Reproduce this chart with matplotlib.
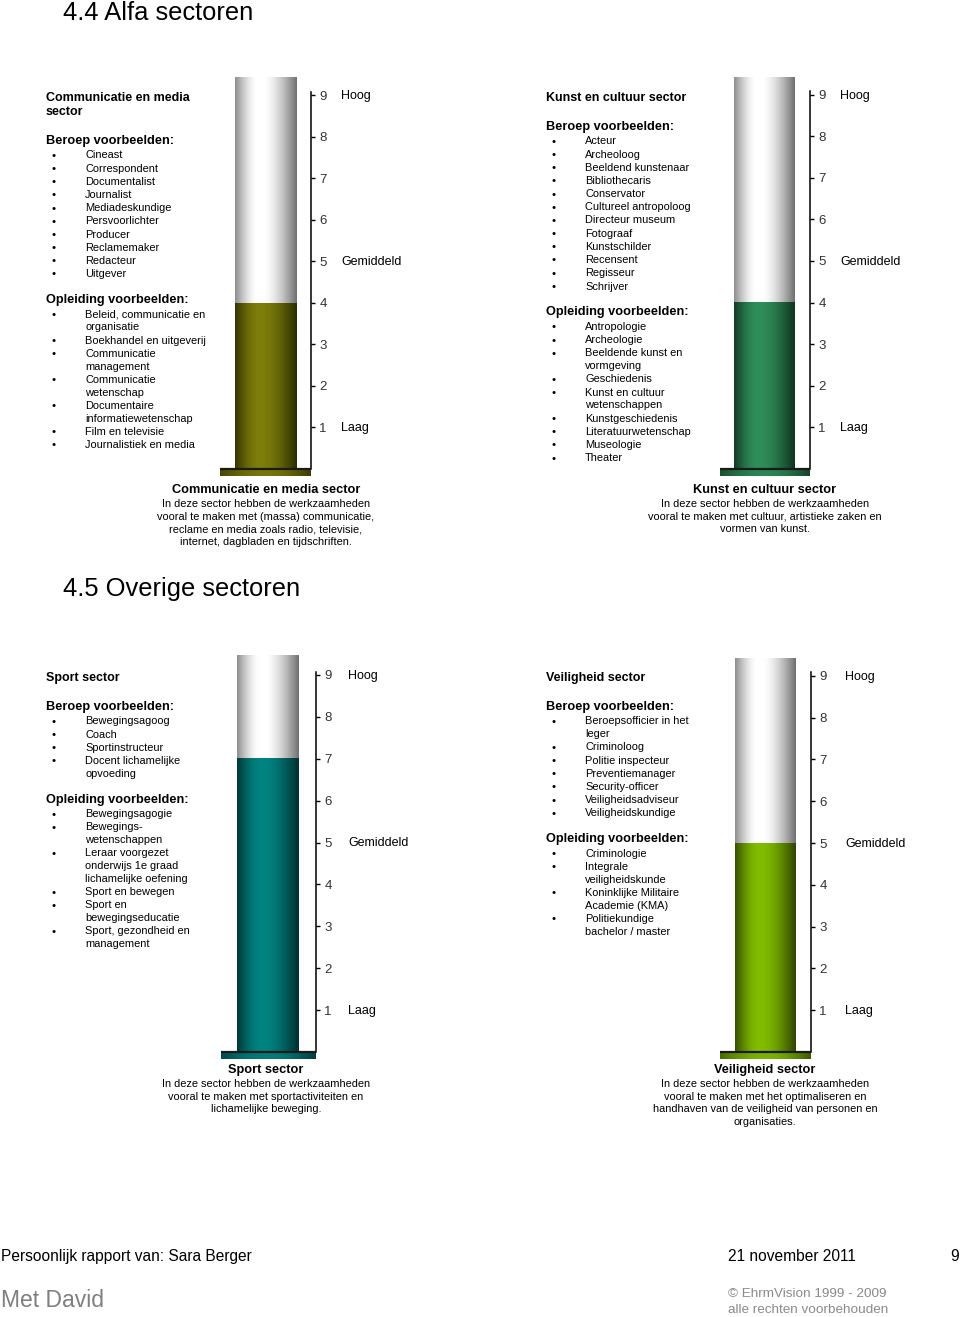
import numpy as np
import matplotlib
matplotlib.use('Agg')
import matplotlib.pyplot as plt
from matplotlib.transforms import offset_copy

plt.rcParams['font.family'] = ['Liberation Sans', 'DejaVu Sans']

W, H = 960, 1317

# ---------------- data ----------------
sectors = ['Communicatie en media sector', 'Kunst en cultuur sector',
           'Sport sector', 'Veiligheid sector']
titles = [['Communicatie en media', 'sector'], ['Kunst en cultuur sector'],
          ['Sport sector'], ['Veiligheid sector']]
scores = [4, 4, 7, 5]
fill_colors = [(118, 118, 10), (44, 134, 84), (0, 124, 122), (122, 178, 0)]

scale_ticks = [1, 2, 3, 4, 5, 6, 7, 8, 9]
level_names = ['Laag', 'Gemiddeld', 'Hoog']
level_values = [1, 5, 9]

beroep = [
    ['Cineast', 'Correspondent', 'Documentalist', 'Journalist', 'Mediadeskundige',
     'Persvoorlichter', 'Producer', 'Reclamemaker', 'Redacteur', 'Uitgever'],
    ['Acteur', 'Archeoloog', 'Beeldend kunstenaar', 'Bibliothecaris', 'Conservator',
     'Cultureel antropoloog', 'Directeur museum', 'Fotograaf', 'Kunstschilder',
     'Recensent', 'Regisseur', 'Schrijver'],
    ['Bewegingsagoog', 'Coach', 'Sportinstructeur', 'Docent lichamelijke\nopvoeding'],
    ['Beroepsofficier in het\nleger', 'Criminoloog', 'Politie inspecteur',
     'Preventiemanager', 'Security-officer', 'Veiligheidsadviseur',
     'Veiligheidskundige'],
]
opleiding = [
    ['Beleid, communicatie en\norganisatie', 'Boekhandel en uitgeverij',
     'Communicatie\nmanagement', 'Communicatie\nwetenschap',
     'Documentaire\ninformatiewetenschap', 'Film en televisie',
     'Journalistiek en media'],
    ['Antropologie', 'Archeologie', 'Beeldende kunst en\nvormgeving', 'Geschiedenis',
     'Kunst en cultuur\nwetenschappen', 'Kunstgeschiedenis',
     'Literatuurwetenschap', 'Museologie', 'Theater'],
    ['Bewegingsagogie', 'Bewegings-\nwetenschappen',
     'Leraar voorgezet\nonderwijs 1e graad\nlichamelijke oefening',
     'Sport en bewegen', 'Sport en\nbewegingseducatie',
     'Sport, gezondheid en\nmanagement'],
    ['Criminologie', 'Integrale\nveiligheidskunde',
     'Koninklijke Militaire\nAcademie (KMA)', 'Politiekundige\nbachelor / master'],
]
captions = [
    ['In deze sector hebben de werkzaamheden',
     'vooral te maken met (massa) communicatie,',
     'reclame en media zoals radio, televisie,',
     'internet, dagbladen en tijdschriften.'],
    ['In deze sector hebben de werkzaamheden',
     'vooral te maken met cultuur, artistieke zaken en',
     'vormen van kunst.'],
    ['In deze sector hebben de werkzaamheden',
     'vooral te maken met sportactiviteiten en',
     'lichamelijke beweging.'],
    ['In deze sector hebben de werkzaamheden',
     'vooral te maken met het optimaliseren en',
     'handhaven van de veiligheid van personen en',
     'organisaties.'],
]

# ---------------- layout (pixels) ----------------
text_x = [46, 546, 46, 546]
text_top = [96, 96, 676, 676]
base_x0 = [220, 720, 221, 720]
tube_x = [(235, 296), (734, 795), (237, 299), (735, 796)]
axis_x = [311, 810, 316, 811]
zero_y = [469, 469, 1052, 1052]
unit_px = [41.5, 41.6, 41.9, 41.8]
tube_top = [77, 77, 655, 658]
level_x = [341, 840, 348, 845]
cap_x = [266, 765, 266, 765]
cap_y = [488, 488, 1068, 1068]
DY = 1.8  # va='center' sits a little high compared with the original


def fx(x):
    return x / W


def fy(y):
    return 1 - (y + DY) / H


def shade(rgb, n=80, lo=0.45, hi=1.06, ro=0.38, peak=0.4):
    t = np.linspace(0, 1, n)
    f = np.where(t < peak,
                 lo + (hi - lo) * np.sin(np.pi / 2 * t / peak),
                 ro + (hi - ro) * np.cos(np.pi / 2 * (t - peak) / (1 - peak)))
    c = np.clip(np.outer(f, np.array(rgb) / 255.0), 0, 1)
    return c[np.newaxis, :, :]


fig = plt.figure(figsize=(W / 100, H / 100), dpi=100)
fig.patch.set_facecolor('white')

# headings
fig.text(fx(63), 1 - 20 / H, '4.4 Alfa sectoren', fontsize=18.4, va='baseline')
fig.text(fx(63), 1 - 596 / H, '4.5 Overige sectoren', fontsize=18.4, va='baseline')

LS = 13.2
for i in range(4):
    x0 = text_x[i]
    y = text_top[i]
    for k, line in enumerate(titles[i]):
        fig.text(fx(x0), fy(y), line, fontsize=9, fontweight='bold', va='center')
        if k < len(titles[i]) - 1:
            y += 14
    for head, items in (('Beroep voorbeelden:', beroep[i]),
                        ('Opleiding voorbeelden:', opleiding[i])):
        y += 29 if head.startswith('Beroep') else 26
        fig.text(fx(x0), fy(y), head, fontsize=9.2, fontweight='bold', va='center')
        y += 14.5 - LS
        for item in items:
            y += LS
            fig.text(fx(x0 + 8), fy(y + 0.4), '\u2022', fontsize=8.2, va='center',
                     ha='center')
            for j, line in enumerate(item.split('\n')):
                if j > 0:
                    y += LS - 0.4
                fig.text(fx(x0 + 39), fy(y), line, fontsize=7.9, va='center')

    # caption under gauge
    cy = cap_y[i]
    fig.text(fx(cap_x[i]), fy(cy), sectors[i], fontsize=9.2, fontweight='bold',
             ha='center', va='center')
    cy += 14
    for line in captions[i]:
        fig.text(fx(cap_x[i]), fy(cy), line, fontsize=7.9, ha='center', va='center')
        cy += 12.7

    # gauge
    L, R = base_x0[i], axis_x[i]
    T, B = tube_top[i], zero_y[i] + 7
    u = unit_px[i]
    ax = fig.add_axes([L / W, 1 - B / H, (R - L) / W, (B - T) / H])
    ylo, yhi = -(B - zero_y[i]) / u, (zero_y[i] - T) / u
    ax.set_xlim(L, R)
    ax.set_ylim(ylo, yhi)
    tx0, tx1 = tube_x[i]
    v = scores[i]
    ax.imshow(shade((205, 205, 205), lo=0.7, hi=1.26, ro=0.55), aspect='auto',
              extent=(tx0, tx1, v, yhi), interpolation='bilinear', zorder=1)
    ax.imshow(shade(fill_colors[i]), aspect='auto',
              extent=(tx0, tx1, 0, v), interpolation='bilinear', zorder=2)
    ax.imshow(shade(fill_colors[i], lo=0.6, hi=1.0, ro=0.5, peak=0.5), aspect='auto',
              extent=(L, R, ylo, 0), interpolation='bilinear', zorder=2)
    ax.plot([L, R], [0, 0], color='#1a1a1a', lw=1.6, zorder=3, solid_capstyle='butt')
    for s in ('top', 'left', 'bottom'):
        ax.spines[s].set_visible(False)
    ax.spines['right'].set_bounds(0, 9.08)
    ax.spines['right'].set_linewidth(1.1)
    ax.set_xticks([])
    ax.yaxis.tick_right()
    ax.set_yticks(scale_ticks)
    ax.tick_params(axis='y', direction='out', length=3, width=1, pad=3,
                   labelsize=9.5, labelcolor='#333333')
    for lab in ax.get_yticklabels():
        lab.set_verticalalignment('center_baseline')
    lvl_tr = offset_copy(ax.transData, fig=fig, y=-1.0, units='dots')
    for name, lv in zip(level_names, level_values):
        ax.text(level_x[i], lv, name, fontsize=9, va='center', ha='left',
                clip_on=False, transform=lvl_tr)
    ax.set_facecolor('none')

# footer
fig.text(fx(1), fy(1255), 'Persoonlijk rapport van: Sara Berger', fontsize=11.2, va='center')
fig.text(fx(728), fy(1255), '21 november 2011', fontsize=11.2, va='center')
fig.text(fx(950), fy(1255), '9', fontsize=11.2, va='center')
fig.text(fx(1), fy(1299), 'Met David', fontsize=16.5, va='center', color='#7f7f7f')
fig.text(fx(728), fy(1292), '\u00a9 EhrmVision 1999 - 2009', fontsize=9.7, va='center',
         color='#8a8a8a')
fig.text(fx(728), fy(1308), 'alle rechten voorbehouden', fontsize=9.7, va='center',
         color='#8a8a8a')

fig.savefig('out.png', dpi=100, facecolor='white')
